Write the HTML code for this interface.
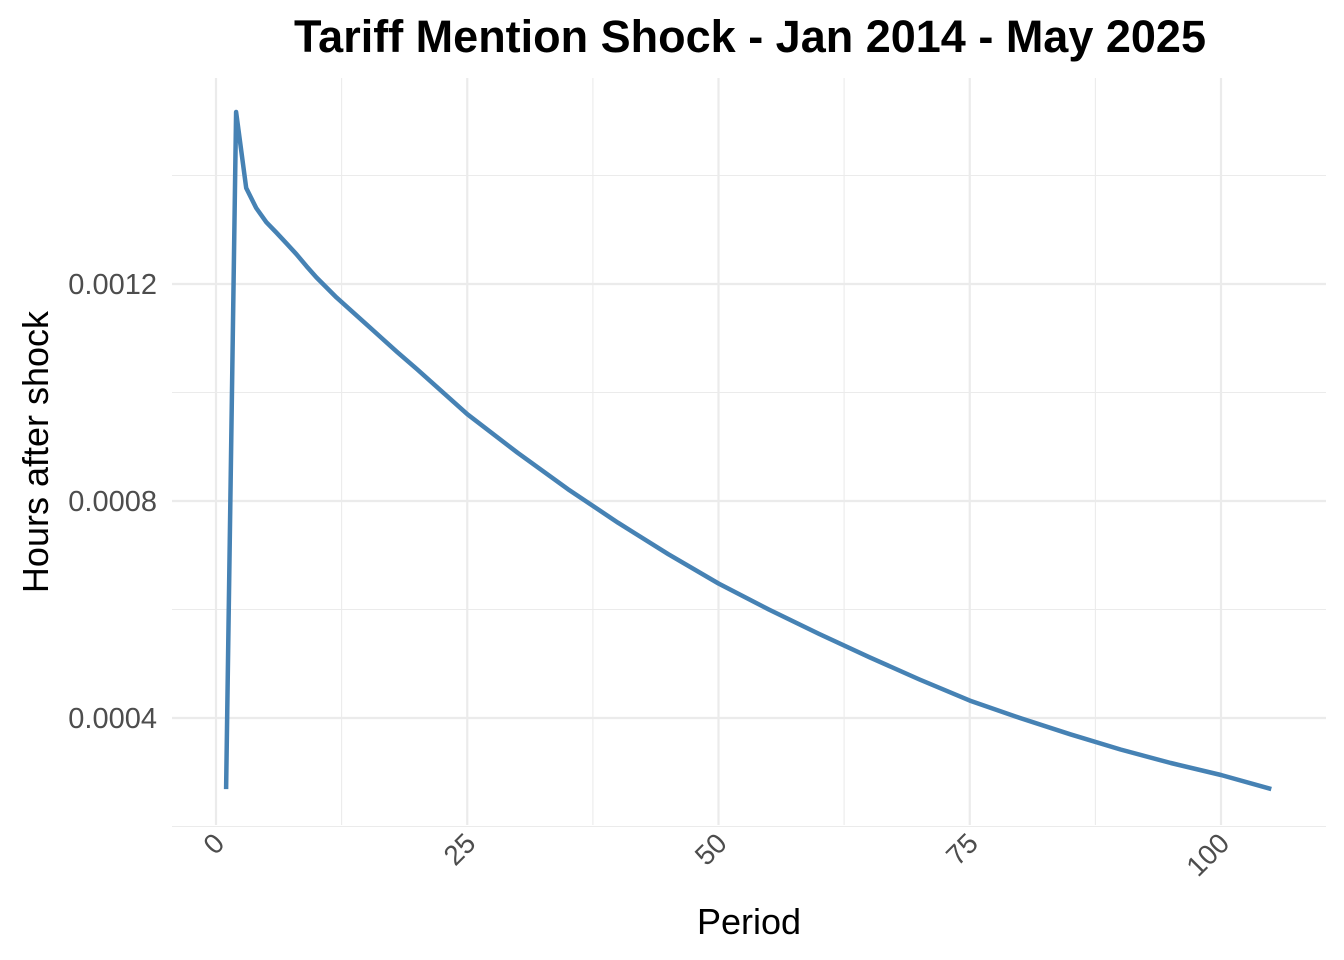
<!DOCTYPE html>
<html><head><meta charset="utf-8"><style>
html,body{margin:0;padding:0;background:#fff;}
svg{display:block;font-family:"Liberation Sans",Arial,sans-serif;}
</style></head><body>
<svg id="chart" width="1344" height="960">
<text x="750" y="52" text-anchor="middle" font-size="45" font-weight="bold" fill="#000">Tariff Mention Shock - Jan 2014 - May 2025</text>
<g id="grid"></g>
<g id="axes"></g>
<text x="749" y="934" text-anchor="middle" font-size="36" fill="#000">Period</text>
<text transform="translate(48,452) rotate(-90)" text-anchor="middle" font-size="36" fill="#000">Hours after shock</text>
<path id="line" fill="none" stroke="#4682B4" stroke-width="4.5" stroke-linejoin="round"/>
</svg>
<script>
const periods=[1,2,3,4,5,6,7,8,9,10,12,15,18,20,25,30,35,40,45,50,55,60,65,70,75,80,85,90,95,100,105];
const values=[0.000269,0.001517,0.001377,0.001340,0.001314,0.001295,0.001275,0.001255,0.001233,0.001212,0.001175,0.001125,0.001075,0.001043,0.000960,0.000889,0.000822,0.000760,0.000702,0.000648,0.000600,0.000555,0.000512,0.000471,0.000432,0.000400,0.000370,0.000342,0.000317,0.000295,0.000269];
const xTicks=[0,25,50,75,100];
const yTicks=[0.0004,0.0008,0.0012];
const NS="http://www.w3.org/2000/svg";
const xs=v=>216+v*(1221-216)/100;
const ys=v=>718-(v-0.0004)*(217/0.0004);
const grid=document.getElementById('grid'),axes=document.getElementById('axes');
function ln(x1,y1,x2,y2,w,name){const l=document.createElementNS(NS,'line');
l.setAttribute('x1',x1);l.setAttribute('y1',y1);l.setAttribute('x2',x2);l.setAttribute('y2',y2);
l.setAttribute('stroke','#ebebeb');l.setAttribute('stroke-width',w);


grid.appendChild(l);}
const L=172,R=1326,T=78,B=825;
for(let i=0;i<xTicks.length;i++){ln(xs(xTicks[i]),T,xs(xTicks[i]),B,2.2,'x-gridline-major');
 if(i<xTicks.length-1){const m=(xTicks[i]+xTicks[i+1])/2;ln(xs(m),T,xs(m),B,1.1,'x-gridline-minor');}
 const t=document.createElementNS(NS,'text');const x=xs(xTicks[i]);
 t.setAttribute('transform','translate('+(x+10)+',845) rotate(-45)');
 t.setAttribute('text-anchor','end');t.setAttribute('font-size','28');t.setAttribute('fill','#4d4d4d');
 t.textContent=xTicks[i];
 
 
 axes.appendChild(t);}
ln(L,ys(0.0002),R,ys(0.0002),1.1,'y-gridline-minor');
for(let i=0;i<yTicks.length;i++){ln(L,ys(yTicks[i]),R,ys(yTicks[i]),2.2,'y-gridline-major');
 ln(L,ys(yTicks[i]+0.0002),R,ys(yTicks[i]+0.0002),1.1,'y-gridline-minor');
 const t=document.createElementNS(NS,'text');
 t.setAttribute('x',157);t.setAttribute('y',ys(yTicks[i])+10);t.setAttribute('text-anchor','end');
 t.setAttribute('font-size','29');t.setAttribute('fill','#4d4d4d');t.textContent=yTicks[i].toFixed(4);
 
 
 axes.appendChild(t);}
document.getElementById('line').setAttribute('d',periods.map((p,i)=>(i?'L':'M')+xs(p).toFixed(1)+','+ys(values[i]).toFixed(1)).join(' '));
</script>
</body></html>
